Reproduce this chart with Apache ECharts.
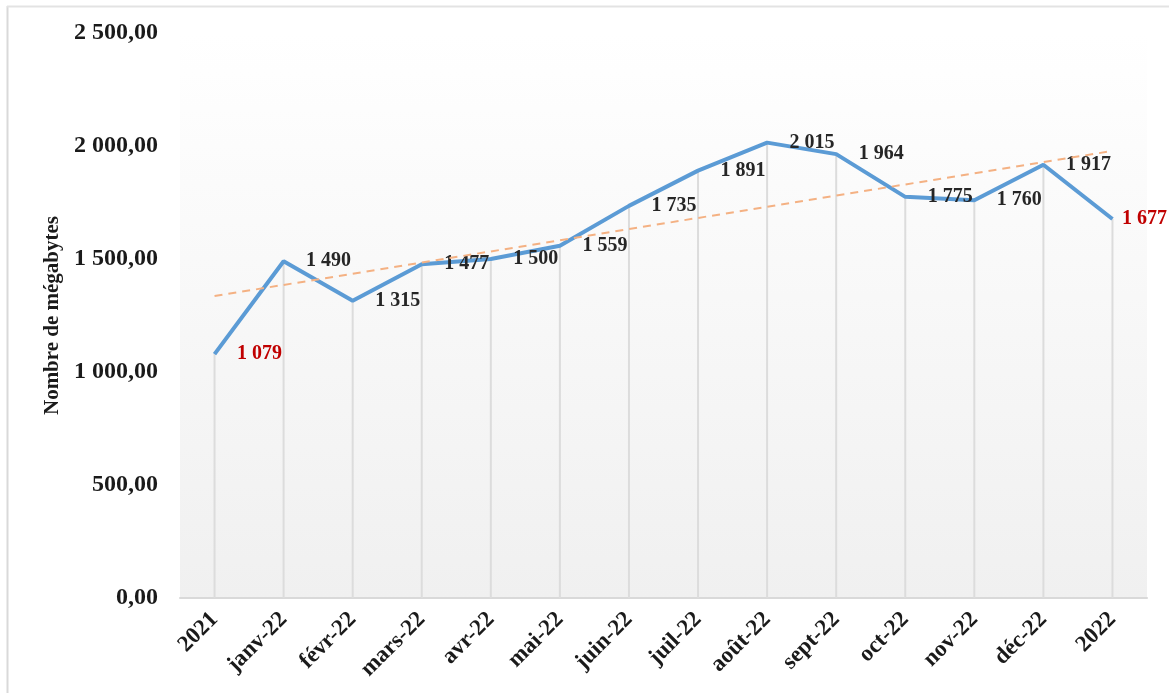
<!DOCTYPE html>
<html>
<head>
<meta charset="utf-8">
<script src="https://cdn.jsdelivr.net/npm/echarts@6/dist/echarts.min.js"></script>
<style>
  html, body { margin: 0; padding: 0; background: #fff; }
  #chart { width: 1169px; height: 693px; }
</style>
</head>
<body>
<div id="chart"></div>
<script>
// données du graphique
const categories = ["2021", "janv-22", "févr-22", "mars-22", "avr-22", "mai-22", "juin-22",
  "juil-22", "août-22", "sept-22", "oct-22", "nov-22", "déc-22", "2022"]
const megabytes = [1079, 1490, 1315, 1477, 1500, 1559, 1735, 1891, 2015, 1964, 1775, 1760, 1917, 1677]
// extrémités de la courbe de tendance
const trendEnds = [1336, 1978]
const yTicks = { min: 0, max: 2500, interval: 500 }

const serif = "'Liberation Serif', 'Times New Roman', serif"

// 2500 -> "2 500,00"
function fmt(v, dec) {
  const parts = v.toFixed(dec).split(".")
  const int = parts[0].replace(/\B(?=(\d{3})+(?!\d))/g, " ")
  return parts.length > 1 ? int + "," + parts[1] : int
}

// premier et dernier points en rouge
const last = megabytes.length - 1
const lineData = megabytes.map((v, i) => {
  if (i === 0) return { value: v, label: { color: "#c00000" } }
  if (i === last) return { value: v, label: { color: "#c00000", distance: 9 } }
  return v
})

const myChart = echarts.init(document.getElementById("chart"))

myChart.setOption({
  backgroundColor: "#fff",
  animation: false,
  graphic: [
    { type: "line", shape: { x1: 7.5, y1: 6, x2: 7.5, y2: 693 }, style: { stroke: "#d9d9d9", lineWidth: 2 } },
    { type: "line", shape: { x1: 7, y1: 6.5, x2: 1169, y2: 6.5 }, style: { stroke: "#e3e3e3", lineWidth: 2 } },
  ],
  grid: {
    left: 180,
    right: 22,
    top: 33,
    bottom: 95,
    show: true,
    borderWidth: 0,
    backgroundColor: {
      type: "linear", x: 0, y: 0, x2: 0, y2: 1,
      colorStops: [
        { offset: 0, color: "#ffffff" },
        { offset: 1, color: "#f0f0f0" },
      ],
    },
  },
  xAxis: {
    type: "category",
    data: categories,
    boundaryGap: true,
    axisLine: { lineStyle: { color: "#d9d9d9", width: 2 } },
    axisTick: { show: false },
    axisLabel: {
      rotate: 45,
      margin: 18,
      interval: 0,
      fontFamily: serif,
      fontWeight: "bold",
      fontSize: 23,
      color: "#1a1a1a",
    },
  },
  yAxis: {
    type: "value",
    min: yTicks.min,
    max: yTicks.max,
    interval: yTicks.interval,
    name: "Nombre de mégabytes",
    nameLocation: "middle",
    nameGap: 116,
    nameTextStyle: {
      fontFamily: serif,
      fontWeight: "bold",
      fontSize: 21,
      color: "#1a1a1a",
    },
    axisLine: { show: false },
    axisTick: { show: false },
    splitLine: { show: false },
    axisLabel: {
      margin: 22,
      fontFamily: serif,
      fontWeight: "bold",
      fontSize: 24,
      color: "#1a1a1a",
      formatter: (v) => fmt(v, 2),
    },
  },
  series: [
    {
      // lignes de projection
      name: "drop",
      type: "bar",
      data: megabytes,
      barWidth: 2,
      silent: true,
      itemStyle: { color: "#dcdcdc" },
      z: 1,
    },
    {
      name: "Mégabytes",
      type: "line",
      data: lineData,
      symbol: "circle",
      symbolSize: 1,
      itemStyle: { color: "rgba(0,0,0,0)" },
      lineStyle: { color: "#5b9bd5", width: 4 },
      z: 3,
      label: {
        show: true,
        position: "right",
        distance: 22,
        offset: [0, 2],
        fontFamily: serif,
        fontWeight: "bold",
        fontSize: 20,
        color: "#262626",
        formatter: (p) => fmt(p.value, 0),
      },
      labelLayout: { hideOverlap: false },
      markLine: {
        silent: true,
        symbol: "none",
        label: { show: false },
        lineStyle: { color: "#f4b183", width: 2, type: [8, 6] },
        data: [[
          { coord: [categories[0], trendEnds[0]] },
          { coord: [categories[last], trendEnds[1]] },
        ]],
      },
    },
  ],
})
</script>
</body>
</html>
